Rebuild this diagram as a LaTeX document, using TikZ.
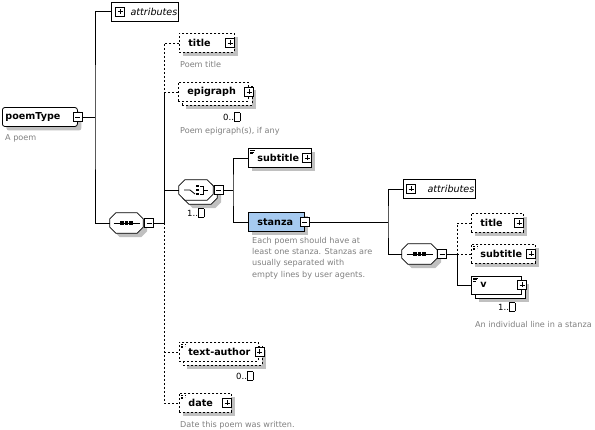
\documentclass[tikz,border=0pt]{standalone}
\usepackage{fontspec}
\setmainfont{DejaVu Sans}
\usetikzlibrary{shadows}
\definecolor{descgray}{RGB}{128,128,128}
\definecolor{shadowgray}{RGB}{192,192,192}
\definecolor{stanzablue}{RGB}{166,202,240}
\newcommand{\infbox}{{\fboxsep=0pt\fboxrule=0.7pt\fbox{\rule{0pt}{8pt}\hspace{5pt}}}}
\newcommand{\octa}[1]{([xshift=6pt]#1.north west) -- ([xshift=-6pt]#1.north east) -- ([yshift=-6pt]#1.north east)
  -- ([yshift=6pt]#1.south east) -- ([xshift=-6pt]#1.south east) -- ([xshift=6pt]#1.south west)
  -- ([yshift=6pt]#1.south west) -- ([yshift=-6pt]#1.north west) -- cycle}
\tikzset{
  wire/.style={line width=0.8pt},
  opt/.style={dash pattern=on 2pt off 2pt},
  shade/.style={drop shadow={shadow xshift=4pt, shadow yshift=-4pt, fill=shadowgray, opacity=1}},
  box/.style={draw, fill=white, line width=0.8pt, anchor=west, align=left,
    font=\bfseries\fontsize{9.6}{10}\selectfont, inner xsep=5pt, inner ysep=0pt, minimum height=19pt},
  elem/.style={box, execute at begin node={\hspace*{4pt}}},
  attr/.style={draw, fill=white, line width=0.8pt, anchor=west, align=right,
    font=\itshape\fontsize{9.6}{10}\selectfont, inner xsep=1pt, inner ysep=0pt, minimum height=19pt},
  txt/.style={path picture={
    \foreach \k in {0,1,2}
      \draw[line width=0.6pt] ([shift={(2pt,-2pt-1.6*\k pt)}]path picture bounding box.north west) -- ++(5pt-\k pt,0);}},
  comp/.style={minimum height=20pt, inner sep=0pt},
  pm/.style={draw, fill=white, line width=0.8pt, minimum width=9pt, minimum height=9pt, inner sep=0pt},
  minus/.style={pm, path picture={
    \draw[line width=0.7pt] ([xshift=2pt]path picture bounding box.west) -- ([xshift=-2pt]path picture bounding box.east);}},
  plus/.style={pm, path picture={
    \draw[line width=0.7pt] ([xshift=2pt]path picture bounding box.west) -- ([xshift=-2pt]path picture bounding box.east);
    \draw[line width=0.7pt] ([yshift=-2pt]path picture bounding box.north) -- ([yshift=2pt]path picture bounding box.south);}},
  desc/.style={text=descgray, font=\fontsize{8.1}{11.3}\selectfont, inner sep=0pt, anchor=west, align=left},
  mult/.style={font=\fontsize{8.5}{10}\selectfont, inner sep=0pt, anchor=west},
}
\begin{document}
\begin{tikzpicture}[x=1pt, y=-1pt]
  \useasboundingbox[fill=white] (0,0) rectangle (595,430);
  % root type
  \node[box, shade, rounded corners=2.5pt, inner xsep=3pt, text width=69pt] (poem) at (2,117) {poemType};
  \node[minus] (poemm) at (77.5,117) {};
  \node[desc] (poemd) at (5,138) {A poem};
  \node[attr, text width=65pt] (attA) at (111,11.5) {attributes};
  \node[plus] (attAp) at (120,11.5) {};
  % top sequence
  \node[comp, minimum width=33pt] (seqAs) at (130.5,227) {};
  \node[comp, minimum width=33pt] (seqA) at (126.5,223) {};
  \fill[shadowgray] \octa{seqAs};
  \draw[wire, fill=white] \octa{seqA};
  \draw[wire] ([xshift=-13pt]seqA.center) -- ([xshift=13pt]seqA.center);
  \foreach \d in {-4.5,0,4.5}
    \fill ([xshift=\d pt]seqA.center) +(-1.7pt,-1.7pt) rectangle +(1.7pt,1.7pt);
  \node[minus] (seqAm) at (149,223) {};
  \coordinate (ja) at (95,117);
  \draw[wire] (poemm.east) -- (ja);
  \draw[wire] (attA.west) -| (ja) |- (seqA.west);
  % children of the sequence
  \node[elem, opt, shade, text width=45pt] (title) at (179,43) {title};
  \node[plus] (titlep) at (230,43) {};
  \node[desc] (titled) at (180,64) {Poem title};
  \node[elem, opt, shade, text width=60pt] (epiB) at (182,96) {\phantom{epigraph}};
  \node[elem, opt, text width=60pt] (epi) at (178,92) {epigraph};
  \node[plus] (epip) at (249,92) {};
  \node[mult] (epim) at (223,117) {0..\infbox};
  \node[desc] (epid) at (180,131) {Poem epigraph(s), if any};
  % choice
  \node[comp, minimum width=34pt] (choS) at (204,198) {};
  \node[comp, minimum width=34pt] (choB) at (200,194) {};
  \node[comp, minimum width=34pt] (cho) at (196,190) {};
  \fill[shadowgray] \octa{choS};
  \draw[wire, fill=white] \octa{choB};
  \draw[wire, fill=white] \octa{cho};
  \draw[wire] ([xshift=-12pt]cho.center) -- ([xshift=-6pt]cho.center) -- ([shift={(-1pt,-4pt)}]cho.center);
  \foreach \d in {-4,0,4}
    \fill ([shift={(1.5pt,\d pt)}]cho.center) +(-1.5pt,-1.4pt) rectangle +(1.5pt,1.4pt);
  \draw[wire] ([shift={(4pt,-4pt)}]cho.center) -| ([shift={(7pt,4pt)}]cho.center) -- ([shift={(4pt,4pt)}]cho.center);
  \draw[wire] ([xshift=7pt]cho.center) -- ([xshift=12pt]cho.center);
  \node[minus] (chom) at (218.5,190) {};
  \node[mult] (chomu) at (187,213) {1..\infbox};
  \node[elem, opt, shade, txt, text width=69pt] (autB) at (183,356) {\phantom{text-author}};
  \node[elem, opt, txt, text width=69pt] (aut) at (179,352) {text-author};
  \node[plus] (autp) at (259.5,352) {};
  \node[mult] (autm) at (236,376) {0..\infbox};
  \node[elem, opt, shade, txt, text width=42pt] (date) at (179,403) {date};
  \node[plus] (datep) at (227,403) {};
  \node[desc] (dated) at (180,425) {Date this poem was written.};
  \coordinate (jb) at (164,223);
  \draw[wire] (seqAm.east) -- (jb);
  \draw[wire, opt] (title.west) -| (jb |- cho.west);
  \draw[wire, opt] (epi.west) -| (jb);
  \draw[wire] (cho.west) -| (jb);
  \draw[wire, opt] (jb) |- (date.west);
  \draw[wire, opt] (jb |- aut.west) -- (aut.west);
  % choice branches
  \node[elem, shade, txt, text width=53pt] (sub) at (248,158) {subtitle};
  \node[plus] (subp) at (307,158) {};
  \node[elem, shade, fill=stanzablue, text width=46pt] (stz) at (248,222) {stanza};
  \node[minus] (stzm) at (304.5,222) {};
  \node[desc, anchor=north west] (stzd) at (252,237) {Each poem should have at\\least one stanza. Stanzas are\\usually separated with\\empty lines by user agents.};
  \coordinate (jc) at (233,190);
  \draw[wire] (chom.east) -- (jc);
  \draw[wire] (sub.west) -| (jc) |- (stz.west);
  % stanza content
  \node[attr, text width=70pt] (attB) at (403,189) {attributes};
  \node[plus] (attBp) at (411,189) {};
  \node[comp, minimum width=35pt] (seqBs) at (423.5,258) {};
  \node[comp, minimum width=35pt] (seqB) at (419.5,254) {};
  \fill[shadowgray] \octa{seqBs};
  \draw[wire, fill=white] \octa{seqB};
  \draw[wire] ([xshift=-13pt]seqB.center) -- ([xshift=13pt]seqB.center);
  \foreach \d in {-4.5,0,4.5}
    \fill ([xshift=\d pt]seqB.center) +(-1.7pt,-1.7pt) rectangle +(1.7pt,1.7pt);
  \node[minus] (seqBm) at (442,254) {};
  \coordinate (jd) at (388,222);
  \draw[wire] (stzm.east) -- (jd);
  \draw[wire] (attB.west) -| (jd) |- (seqB.west);
  \node[elem, opt, shade, text width=42pt] (tit2) at (471,223) {title};
  \node[plus] (tit2p) at (519,223) {};
  \node[elem, opt, shade, txt, text width=54pt] (sub2) at (471,254) {subtitle};
  \node[plus] (sub2p) at (531,254) {};
  \node[elem, shade, txt, minimum height=18pt, text width=40pt] (vB) at (475,289) {\phantom{v}};
  \node[elem, txt, minimum height=18pt, text width=40pt] (v) at (471,285) {v};
  \node[plus] (vp) at (522,285) {};
  \node[mult] (vm) at (498,307) {1..\infbox};
  \node[desc] (vd) at (475,324) {An individual line in a stanza};
  \coordinate (je) at (457,254);
  \draw[wire] (seqBm.east) -- (je);
  \draw[wire, opt] (tit2.west) -| (je);
  \draw[wire, opt] (je) -- (sub2.west);
  \draw[wire] (je) |- (v.west);
\end{tikzpicture}
\end{document}
